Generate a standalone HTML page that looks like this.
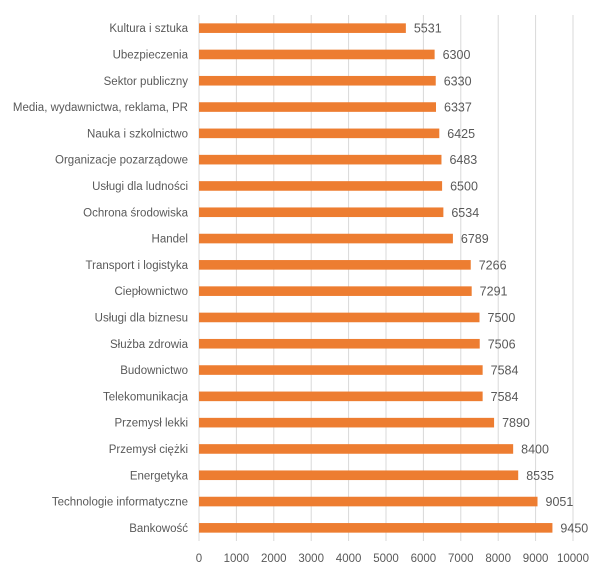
<!DOCTYPE html>
<html><head><meta charset="utf-8"><style>
body{margin:0;background:#fff;}
svg text{font-family:"Liberation Sans",sans-serif;font-size:11.5px;fill:#595959;}
</style></head><body>
<svg id="chart" width="605" height="575"></svg>
<script>
const categories=["Kultura i sztuka","Ubezpieczenia","Sektor publiczny","Media, wydawnictwa, reklama, PR","Nauka i szkolnictwo","Organizacje pozarządowe","Usługi dla ludności","Ochrona środowiska","Handel","Transport i logistyka","Ciepłownictwo","Usługi dla biznesu","Służba zdrowia","Budownictwo","Telekomunikacja","Przemysł lekki","Przemysł ciężki","Energetyka","Technologie informatyczne","Bankowość"];
const values=[5531,6300,6330,6337,6425,6483,6500,6534,6789,7266,7291,7500,7506,7584,7584,7890,8400,8535,9051,9450];
const ticks=[0,1000,2000,3000,4000,5000,6000,7000,8000,9000,10000];
const NS="http://www.w3.org/2000/svg";
const svg=document.getElementById('chart');
const x0=199,x1=573,yTop=15,yBot=541,xMax=10000;
const xs=v=>x0+(x1-x0)*v/xMax;
const band=(yBot-yTop)/categories.length;
const yc=i=>yTop+band*(i+0.5);
function mk(t,a){const e=document.createElementNS(NS,t);for(const k in a)e.setAttribute(k,a[k]);svg.appendChild(e);return e;}
ticks.forEach(t=>{
 const g=mk('line',{x1:xs(t),x2:xs(t),y1:yTop,y2:yBot,stroke:'#d9d9d9','stroke-width':1});
 
 
 const l=mk('text',{x:xs(t),y:562,'text-anchor':'middle'});l.textContent=t;
 
 
});
categories.forEach((c,i)=>{
 const y=yc(i);
 const b=mk('rect',{x:x0,y:y-4.8,width:xs(values[i])-x0,height:9.6,fill:'#ed7d31'});
 
 
 const l=mk('text',{x:188,y:y+4,'text-anchor':'end'});l.textContent=c;
 
 
 const v=mk('text',{x:xs(values[i])+8,y:y+4.5,style:'font-size:12.5px'});v.textContent=values[i];
 
 
});
</script>
</body></html>
